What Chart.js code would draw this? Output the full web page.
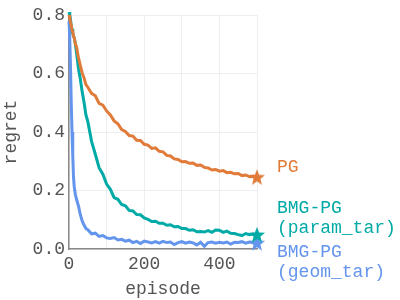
<!DOCTYPE html>
<html>
<head>
<meta charset="utf-8">
<script src="https://cdn.jsdelivr.net/npm/chart.js@4/dist/chart.umd.min.js"></script>
<style>
html, body { margin: 0; padding: 0; background: #fff; }
#wrap { width: 400px; height: 300px; }
</style>
</head>
<body>
<div id="wrap"><canvas id="chart"></canvas></div>
<script>
var episodes = [0, 2, 4, 6, 8, 10, 12, 14, 17, 20, 25, 30, 35, 40, 45, 50,
	60, 70, 80, 90, 100, 110, 120, 130, 140, 150, 160, 170, 180, 190, 200,
	210, 220, 230, 240, 250, 260, 270, 280, 290, 300, 310, 320, 330, 340, 350,
	360, 370, 380, 390, 400, 410, 420, 430, 440, 450, 460, 470, 480, 490, 500];

var pg = [0.80, 0.79, 0.775, 0.765, 0.748, 0.742, 0.728, 0.722, 0.70, 0.692, 0.655, 0.628, 0.602, 0.585, 0.562, 0.553,
	0.532, 0.524, 0.498, 0.492, 0.472, 0.458, 0.438, 0.428, 0.408, 0.402, 0.388, 0.386, 0.372, 0.371, 0.358,
	0.355, 0.344, 0.346, 0.334, 0.332, 0.32, 0.318, 0.308, 0.306, 0.298, 0.299, 0.293, 0.294, 0.286, 0.287,
	0.279, 0.277, 0.27, 0.272, 0.266, 0.268, 0.261, 0.262, 0.257, 0.258, 0.251, 0.253, 0.247, 0.249, 0.245];

var paramTar = [0.81, 0.80, 0.785, 0.762, 0.752, 0.738, 0.728, 0.722, 0.70, 0.672, 0.618, 0.582, 0.538, 0.502, 0.458, 0.436,
	0.368, 0.324, 0.278, 0.256, 0.222, 0.204, 0.176, 0.17, 0.152, 0.148, 0.132, 0.13, 0.118, 0.117, 0.106,
	0.101, 0.094, 0.095, 0.088, 0.088, 0.081, 0.083, 0.076, 0.077, 0.07, 0.07, 0.064, 0.066, 0.059, 0.06,
	0.058, 0.063, 0.057, 0.065, 0.064, 0.057, 0.061, 0.054, 0.053, 0.049, 0.046, 0.053, 0.049, 0.051, 0.048];

var geomTar = [0.78, 0.72, 0.62, 0.50, 0.40, 0.32, 0.245, 0.212, 0.186, 0.17, 0.148, 0.118, 0.096, 0.082, 0.07, 0.066,
	0.052, 0.054, 0.043, 0.046, 0.038, 0.036, 0.039, 0.031, 0.033, 0.027, 0.03, 0.022, 0.026, 0.019, 0.027,
	0.024, 0.021, 0.025, 0.02, 0.026, 0.022, 0.024, 0.015, 0.022, 0.025, 0.02, 0.024, 0.021, 0.014, 0.023,
	0.009, 0.022, 0.024, 0.02, 0.023, 0.021, 0.024, 0.017, 0.023, 0.022, 0.025, 0.02, 0.024, 0.021, 0.02];

var xTicks = [0, 200, 400];
var yTicks = [0, 0.2, 0.4, 0.6, 0.8];

var names = ["PG", "BMG-PG\n(param_tar)", "BMG-PG\n(geom_tar)"];
var colors = ["#e07b39", "#00aaa6", "#6495ed"];
var labelAt = [0.28, 0.14, -0.01];

function makeStar(color) {
	var c = document.createElement("canvas");
	c.width = 18; c.height = 18;
	var g = c.getContext("2d");
	g.fillStyle = color;
	g.beginPath();
	for (var i = 0; i < 10; i++) {
		var r = i % 2 == 0 ? 8.5 : 3.6;
		var a = -Math.PI / 2 + i * Math.PI / 5;
		var px = 9 + r * Math.cos(a), py = 9.5 + r * Math.sin(a);
		if (i == 0) g.moveTo(px, py); else g.lineTo(px, py);
	}
	g.closePath();
	g.fill();
	return c;
}

function series(vals) {
	return episodes.map(function (e, i) { return { x: e, y: vals[i] }; });
}

var all = [pg, paramTar, geomTar];
var datasets = all.map(function (vals, k) {
	var star = makeStar(colors[k]);
	return {
		label: names[k],
		data: series(vals),
		borderColor: colors[k],
		backgroundColor: colors[k],
		borderWidth: 3,
		tension: 0,
		clip: false,
		pointStyle: function (ctx) { return ctx.dataIndex == episodes.length - 1 ? star : false; },
		pointRadius: function (ctx) { return ctx.dataIndex == episodes.length - 1 ? 9 : 0; },
	};
});
// draw order: blue at the back, PG on top
datasets[0].order = 1;
datasets[1].order = 2;
datasets[2].order = 3;

var endLabels = {
	id: "endLabels",
	afterDraw: function (chart) {
		var g = chart.ctx;
		var y = chart.scales.y;
		var x0 = chart.chartArea.right + 20;
		g.save();
		g.font = "18px 'Liberation Mono'";
		g.textBaseline = "middle";
		names.forEach(function (n, k) {
			g.fillStyle = colors[k];
			var yy = y.getPixelForValue(labelAt[k]);
			n.split("\n").forEach(function (line, j) {
				g.fillText(line, x0, yy + j * 20);
			});
		});
		g.restore();
	}
};

var tickFont = { family: "'Liberation Mono'", size: 18 };

new Chart(document.getElementById("chart"), {
	type: "line",
	data: { datasets: datasets },
	options: {
		responsive: true,
		maintainAspectRatio: false,
		animation: false,
		layout: { padding: { top: 15, right: 143, left: 0, bottom: 0 } },
		plugins: { legend: { display: false }, tooltip: { enabled: false } },
		scales: {
			x: {
				type: "linear",
				min: 0, max: 500,
				grid: { color: "#eeeeee", lineWidth: 1, drawTicks: false },
				border: { color: "#888888", width: 1.5 },
				ticks: {
					stepSize: 100, color: "#555555", font: tickFont, padding: 4,
					maxRotation: 0,
					callback: function (v) { return xTicks.indexOf(v) >= 0 ? String(v) : ""; }
				},
				title: { display: true, text: "episode", color: "#555555", font: tickFont, padding: { top: 0, bottom: 0 } },
				afterFit: function (s) { s.height = 51; }
			},
			y: {
				min: 0, max: 0.8,
				grid: { color: "#eeeeee", lineWidth: 1, drawTicks: false },
				border: { color: "#888888", width: 1.5 },
				ticks: {
					stepSize: 0.2, color: "#555555", font: tickFont, padding: 4,
					callback: function (v) { return yTicks.some(function (t) { return Math.abs(t - v) < 1e-6; }) ? v.toFixed(1) : ""; }
				},
				title: { display: true, text: "regret", color: "#555555", font: tickFont, padding: { top: 0, bottom: 0 } },
				afterFit: function (s) { s.width = 69; }
			}
		}
	},
	plugins: [endLabels]
});
</script>
</body>
</html>
